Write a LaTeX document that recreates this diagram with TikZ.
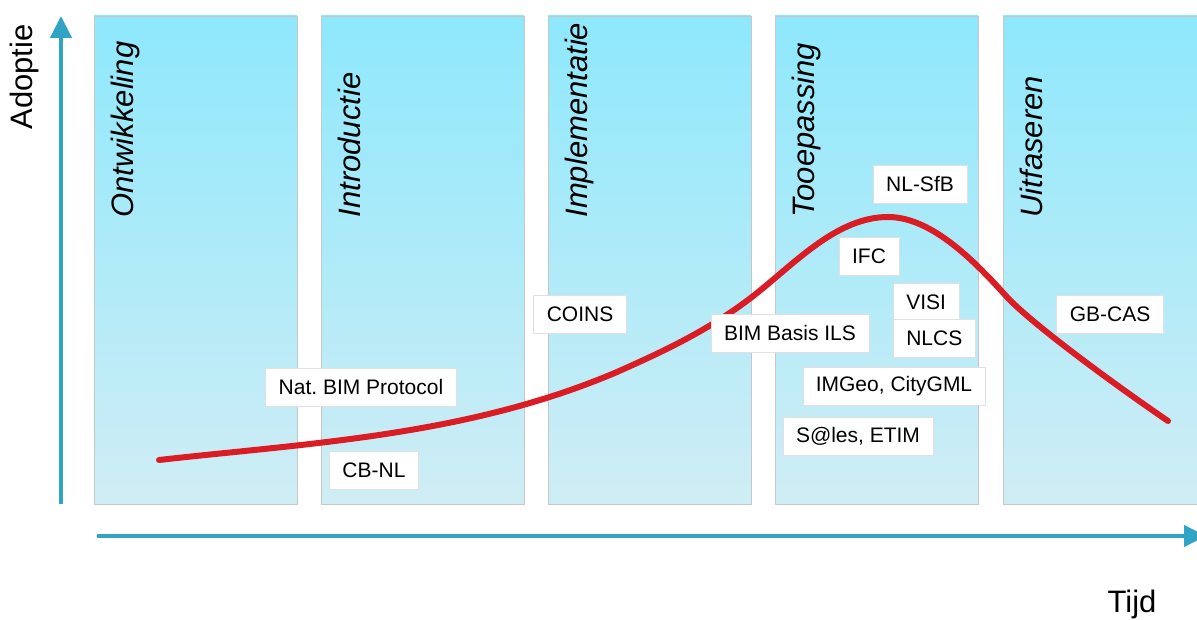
\documentclass[tikz,border=0pt]{standalone}
\usepackage{fontspec}
\setmainfont{Liberation Sans}
\usetikzlibrary{arrows.meta}
\definecolor{phasetop}{RGB}{142,232,252}
\definecolor{phasebot}{RGB}{208,237,245}
\definecolor{axisblue}{RGB}{49,163,196}
\definecolor{curvered}{RGB}{218,28,36}
\tikzset{
  phase/.style={draw=black!22, line width=0.8pt, top color=phasetop, bottom color=phasebot},
  phaselabel/.style={rotate=90, anchor=base west, font=\fontsize{31}{36}\selectfont\itshape},
  axislabel/.style={font=\fontsize{31}{36}\selectfont},
  axis/.style={draw=axisblue, line width=4.5pt, -{Triangle[width=21pt,length=22pt]}},
  tag/.style={fill=white, draw=black!12, line width=0.6pt, inner xsep=13pt, minimum height=38pt, font=\fontsize{21}{25}\selectfont},
  adoption/.style={draw=curvered, line width=6pt, line cap=round}
}
\begin{document}
\begin{tikzpicture}[x=1pt, y=-1pt]
    \useasboundingbox (0,0) rectangle (1197,620);
    % Definitions
    \coordinate (ybot) at (61,504);
    \coordinate (ytop) at (61,16);
    \coordinate (xleft) at (97,536);
    \coordinate (xright) at (1206,536);
    % Phases
    \foreach \name/\lbl/\xl/\w in {ontw/Ontwikkeling/94/203, intro/Introductie/321/203, impl/Implementatie/548/203, toep/Tooepassing/775/203, uitf/Uitfaseren/1003/210}{
        \path[phase] (\xl,16) rectangle ++(\w,488);
        \node[phaselabel] (\name) at (\xl+39,221) {\lbl};
    }
    % Axes
    \draw[axis] (ybot) -- (ytop);
    \draw[axis] (xleft) -- (xright);
    \node[axislabel, rotate=90] (adoptie) at (24,77) {Adoptie};
    \node[axislabel] (tijd) at (1132,604) {Tijd};
    % Adoption curve
    \draw[adoption] (159,460) .. controls (309,443) and (467,436) .. (617,372)
        .. controls (662,352) and (712,329) .. (757,293)
        .. controls (797,261) and (838,217) .. (888,217)
        .. controls (933,217) and (977,264) .. (1007,297)
        .. controls (1030,322) and (1108,380) .. (1168,421);
    % Standards
    \node[tag] (nlsfb) at (920,184) {NL-SfB};
    \node[tag] (ifc) at (869,256) {IFC};
    \node[tag, anchor=west] (visi) at (893,302) {VISI};
    \node[tag, anchor=west] (nlcs) at (893,338) {NLCS};
    \node[tag] (bimbasis) at (790,333) {BIM Basis ILS};
    \node[tag] (imgeo) at (894,386) {IMGeo, CityGML};
    \node[tag] (sales) at (858,436) {S@les, ETIM};
    \node[tag] (coins) at (580,314) {COINS};
    \node[tag] (natbim) at (361,387) {Nat.\ BIM Protocol};
    \node[tag] (cbnl) at (374,470) {CB-NL};
    \node[tag] (gbcas) at (1110,314) {GB-CAS};
\end{tikzpicture}
\end{document}
